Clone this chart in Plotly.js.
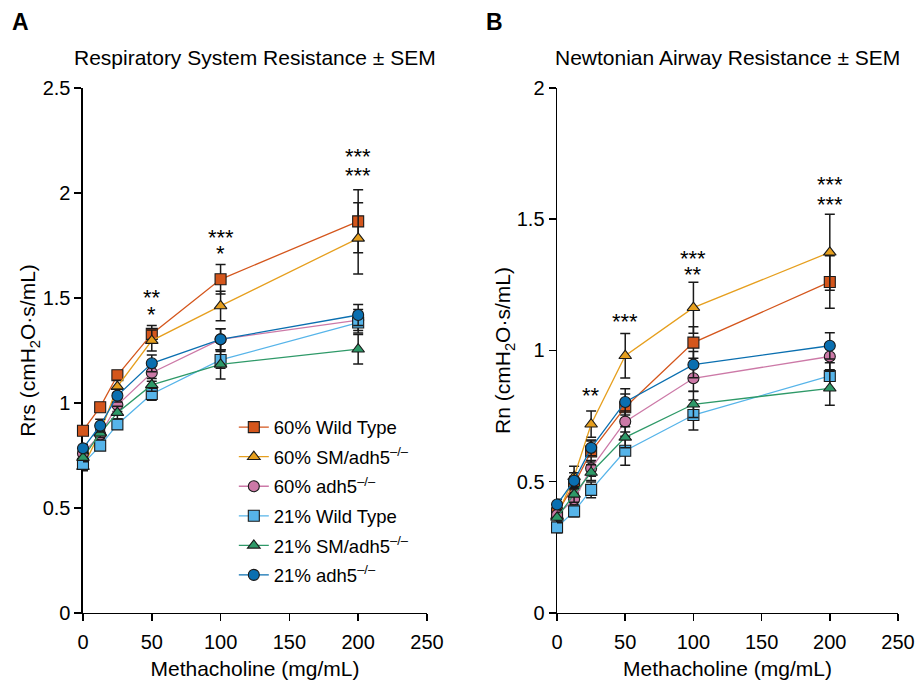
<!DOCTYPE html>
<html>
<head>
<meta charset="utf-8">
<script src="https://cdn.plot.ly/plotly-3.0.1.min.js"></script>
<style>body{margin:0;padding:0;background:#fff}#chart{width:918px;height:681px}</style>
</head>
<body>
<div id="chart"></div>
<script>
const dose = [0, 12.5, 25, 50, 100, 200];
const groupNames = ["60% Wild Type", "60% SM/adh5<sup>\u2013/\u2013</sup>", "60% adh5<sup>\u2013/\u2013</sup>",
                    "21% Wild Type", "21% SM/adh5<sup>\u2013/\u2013</sup>", "21% adh5<sup>\u2013/\u2013</sup>"];

// Panel A: Respiratory System Resistance (Rrs)
const rrs_60WT   = [0.868, 0.980, 1.132, 1.329, 1.589, 1.865];
const rrs_60SM   = [0.697, 0.860, 1.078, 1.297, 1.462, 1.784];
const rrs_60adh5 = [0.760, 0.850, 0.990, 1.144, 1.303, 1.395];
const rrs_21WT   = [0.710, 0.797, 0.898, 1.043, 1.205, 1.383];
const rrs_21SM   = [0.740, 0.856, 0.954, 1.086, 1.184, 1.256];
const rrs_21adh5 = [0.784, 0.892, 1.035, 1.189, 1.303, 1.419];
const rrsSem_60WT   = [0.02, 0.02, 0.02, 0.04, 0.07, 0.15];
const rrsSem_60SM   = [0.02, 0.03, 0.03, 0.05, 0.07, 0.17];
const rrsSem_60adh5 = [0.02, 0.02, 0.03, 0.04, 0.05, 0.05];
const rrsSem_21WT   = [0.02, 0.02, 0.02, 0.03, 0.04, 0.05];
const rrsSem_21SM   = [0.02, 0.02, 0.03, 0.03, 0.07, 0.07];
const rrsSem_21adh5 = [0.02, 0.03, 0.03, 0.04, 0.05, 0.05];

// Panel B: Newtonian Airway Resistance (Rn)
const rn_60WT   = [0.380, 0.490, 0.615, 0.784, 1.030, 1.261];
const rn_60SM   = [0.370, 0.519, 0.719, 0.980, 1.163, 1.374];
const rn_60adh5 = [0.373, 0.433, 0.551, 0.729, 0.894, 0.977];
const rn_21WT   = [0.326, 0.387, 0.469, 0.618, 0.754, 0.903];
const rn_21SM   = [0.364, 0.452, 0.535, 0.669, 0.795, 0.856];
const rn_21adh5 = [0.413, 0.504, 0.629, 0.804, 0.946, 1.018];
const rnSem_60WT   = [0.02, 0.03, 0.04, 0.05, 0.06, 0.10];
const rnSem_60SM   = [0.02, 0.04, 0.05, 0.085, 0.097, 0.145];
const rnSem_60adh5 = [0.02, 0.02, 0.03, 0.04, 0.05, 0.05];
const rnSem_21WT   = [0.02, 0.02, 0.03, 0.055, 0.057, 0.05];
const rnSem_21SM   = [0.02, 0.03, 0.03, 0.04, 0.05, 0.065];
const rnSem_21adh5 = [0.02, 0.03, 0.03, 0.05, 0.05, 0.05];

const xTicks = [0, 50, 100, 150, 200, 250];

const colors  = ["#D4561C", "#E69F1E", "#CC79A7", "#56B4E9", "#2E9968", "#0A6FB0"];
const symbols = ["square", "triangle-up", "circle", "square", "triangle-up", "circle"];

const rrsData = [rrs_60WT, rrs_60SM, rrs_60adh5, rrs_21WT, rrs_21SM, rrs_21adh5];
const rrsSem  = [rrsSem_60WT, rrsSem_60SM, rrsSem_60adh5, rrsSem_21WT, rrsSem_21SM, rrsSem_21adh5];
const rnData  = [rn_60WT, rn_60SM, rn_60adh5, rn_21WT, rn_21SM, rn_21adh5];
const rnSem   = [rnSem_60WT, rnSem_60SM, rnSem_60adh5, rnSem_21WT, rnSem_21SM, rnSem_21adh5];

const FONT = "Liberation Sans, Arial, sans-serif";
const traces = [];
function addPanel(data, sem, xa, ya, showLegend) {
  for (let i = 0; i < data.length; i++) {
    traces.push({
      type: "scatter", mode: "lines+markers",
      x: dose, y: data[i], xaxis: xa, yaxis: ya,
      name: groupNames[i], showlegend: showLegend, legendgroup: "g" + i,
      cliponaxis: false,
      line: {color: colors[i], width: 1.3},
      marker: {symbol: symbols[i], color: colors[i], size: 11,
               line: {color: "#1a1a1a", width: 1.1}},
      error_y: {type: "data", array: sem[i], visible: true, color: "#1a1a1a", thickness: 1.5, width: 5}
    });
  }
}
addPanel(rrsData, rrsSem, "x", "y", true);
addPanel(rnData, rnSem, "x2", "y2", false);

const axisCommon = {
  showline: true, linecolor: "#000", linewidth: 1.5, mirror: false,
  ticks: "outside", ticklen: 7, tickwidth: 1.5, tickcolor: "#000",
  showgrid: false, zeroline: false, layer: "below traces",
  tickfont: {family: FONT, size: 20, color: "#000"}
};
const xTitle = {text: "Methacholine (mg/mL)", font: {family: FONT, size: 21, color: "#000"}, standoff: 9};

function star(x, y, xref, yref, text) {
  return {x: x, y: y, xref: xref, yref: yref, text: text, showarrow: false,
          font: {family: FONT, size: 22, color: "#000"}, xanchor: "center", yanchor: "middle"};
}

const layout = {
  width: 918, height: 681,
  margin: {l: 0, r: 0, t: 0, b: 0},
  paper_bgcolor: "#fff", plot_bgcolor: "#fff",
  font: {family: FONT, color: "#000"},
  showlegend: true,
  legend: {x: 0.2547, y: 0.40, xanchor: "left", yanchor: "top", bgcolor: "rgba(0,0,0,0)",
           font: {family: FONT, size: 18.5, color: "#000"}, itemwidth: 30, tracegroupgap: 2.5},
  xaxis: Object.assign({}, axisCommon, {domain: [0.0904, 0.4651], range: [0, 250], tickvals: xTicks, anchor: "y",
           ticklabelstandoff: 4, title: xTitle}),
  yaxis: Object.assign({}, axisCommon, {domain: [0.0999, 0.8708], range: [0, 2.5], dtick: 0.5, anchor: "x",
           title: {text: "Rrs (cmH<sub>2</sub>O\u00b7s/mL)", font: {family: FONT, size: 21, color: "#000"}, standoff: 0}}),
  xaxis2: Object.assign({}, axisCommon, {domain: [0.6068, 0.9782], range: [0, 250], tickvals: xTicks, anchor: "y2",
           ticklabelstandoff: 4, title: xTitle}),
  yaxis2: Object.assign({}, axisCommon, {domain: [0.0999, 0.8708], range: [0, 2], dtick: 0.5, anchor: "x2",
           title: {text: "Rn (cmH<sub>2</sub>O\u00b7s/mL)", font: {family: FONT, size: 21, color: "#000"}, standoff: 0}}),
  annotations: [
    {x: 0.011, y: 0.968, xref: "paper", yref: "paper", xanchor: "left", yanchor: "middle", showarrow: false,
     text: "<b>A</b>", font: {family: FONT, size: 23, color: "#000"}},
    {x: 0.527, y: 0.968, xref: "paper", yref: "paper", xanchor: "left", yanchor: "middle", showarrow: false,
     text: "<b>B</b>", font: {family: FONT, size: 23, color: "#000"}},
    {x: 0.2778, y: 0.916, xref: "paper", yref: "paper", xanchor: "center", yanchor: "middle", showarrow: false,
     text: "Respiratory System Resistance \u00b1 SEM", font: {family: FONT, size: 21, color: "#000"}},
    {x: 0.7925, y: 0.916, xref: "paper", yref: "paper", xanchor: "center", yanchor: "middle", showarrow: false,
     text: "Newtonian Airway Resistance \u00b1 SEM", font: {family: FONT, size: 21, color: "#000"}},
    star(50, 1.500, "x", "y", "**"),
    star(50, 1.419, "x", "y", "*"),
    star(100, 1.790, "x", "y", "***"),
    star(100, 1.710, "x", "y", "*"),
    star(200, 2.176, "x", "y", "***"),
    star(200, 2.081, "x", "y", "***"),
    star(25, 0.830, "x2", "y2", "**"),
    star(50, 1.109, "x2", "y2", "***"),
    star(100, 1.352, "x2", "y2", "***"),
    star(100, 1.291, "x2", "y2", "**"),
    star(200, 1.634, "x2", "y2", "***"),
    star(200, 1.558, "x2", "y2", "***")
  ]
};

Plotly.newPlot("chart", traces, layout, {displayModeBar: false, staticPlot: true});
</script>
</body>
</html>
